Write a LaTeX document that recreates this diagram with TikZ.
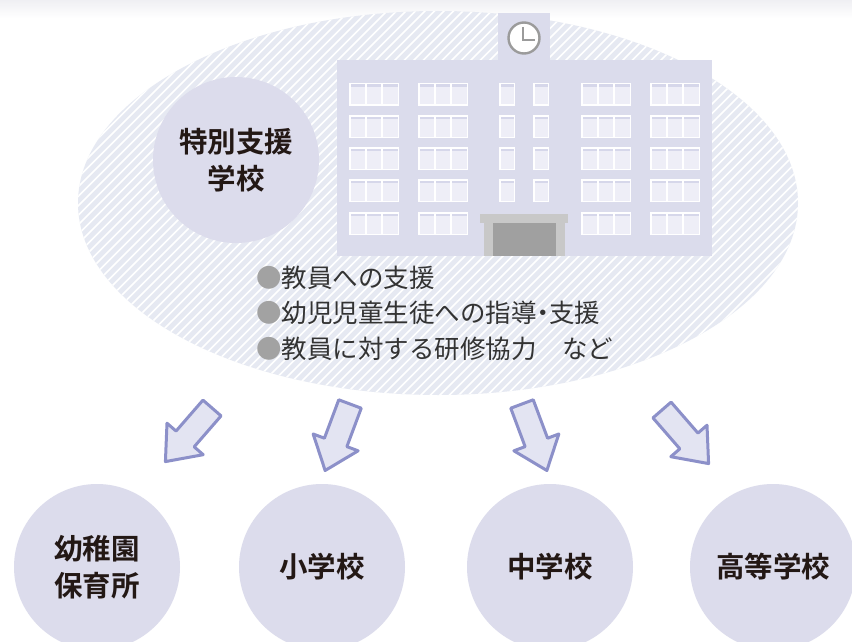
\documentclass[tikz,border=0pt]{standalone}
\usepackage{fontspec}
\newfontfamily\jp{Noto Sans CJK JP}[BoldFont={Noto Sans CJK JP Bold}]
\usetikzlibrary{calc}

\definecolor{hatchbase}{HTML}{E6E9F2}
\definecolor{disc}{HTML}{DCDCEC}
\definecolor{bldg}{HTML}{DBDCEC}
\definecolor{pane}{HTML}{EEEEF7}
\definecolor{panetop}{HTML}{D6D7EA}
\definecolor{arrowline}{HTML}{8C90C9}
\definecolor{arrowfill}{HTML}{E3E4F2}
\definecolor{ink}{HTML}{231815}
\definecolor{bodytext}{HTML}{333333}
\definecolor{dotgray}{HTML}{A2A2A2}
\definecolor{doorlight}{HTML}{C8C8C8}
\definecolor{doordark}{HTML}{A0A0A0}
\definecolor{clockring}{HTML}{9B9B9B}
\definecolor{topband}{HTML}{EFEFF3}

% window block: x, y, width, number of panes
\newcommand\winset[4]{%
  \fill[white] (#1,#2) rectangle ++(#3,23);
  \pgfmathsetmacro\winpw{(#3-(#4+1)*1.5)/#4}
  \foreach \k in {1,...,#4}{
    \fill[pane] ({#1+1.5+(\k-1)*(\winpw+1.5)},{#2+1.5}) rectangle ++(\winpw,20);
    \fill[panetop] ({#1+1.5+(\k-1)*(\winpw+1.5)},{#2+1.5}) rectangle ++(\winpw,2.2);
  }%
}

\tikzset{
  disclabel/.style={circle, fill=disc, minimum size=166, inner sep=0pt,
    align=center, text=ink, font=\jp\bfseries\fontsize{28.5}{37}\selectfont},
  blockarrow/.pic={
    \draw[line width=3pt, line join=round, draw=arrowline, fill=arrowfill]
      (0,-12) -- (41,-12) -- (41,-24) -- (71,0) -- (41,24) -- (41,12) -- (0,12) -- cycle;
  }
}

\begin{document}
\begin{tikzpicture}[x=1pt, y=-1pt]
\useasboundingbox (0,0) rectangle (852,642);
\fill[white] (0,0) rectangle (852,642);
\shade[top color=topband, bottom color=white] (0,0) rectangle (852,18);

% hatched zone around the special-needs school
\fill[hatchbase] (438,203) ellipse [x radius=360, y radius=192];
\begin{scope}
  \clip (438,203) ellipse [x radius=360, y radius=192];
  \foreach \i in {-420,-410.5,...,820}
    \draw[white, line width=1.5pt] (\i,400) -- ++(400,-400);
\end{scope}

% school building
\fill[bldg] (498,13) rectangle (550,60);
\fill[bldg] (337,60) rectangle (712,256);
\draw[clockring, line width=2.4pt, fill=white] (524,38) circle [radius=15.5];
\draw[clockring, line width=1.4pt] (523,27) -- (523,40) -- (535,40);
\foreach \ry in {83,115,147,179,212}{
  \winset{349}{\ry}{50}{3}
  \winset{418}{\ry}{50}{3}
  \winset{581}{\ry}{50}{3}
  \winset{650}{\ry}{50}{3}
}
\foreach \ry in {83,115,147,179}{
  \winset{499}{\ry}{16}{1}
  \winset{533}{\ry}{16}{1}
}
\fill[doorlight] (480,214) rectangle (568,223);
\fill[doorlight] (484,223) rectangle (565,256);
\fill[doordark] (493,223) rectangle (556,256);

% schools
\node[disclabel] (sns) at (236,160) {特別支援\\学校};
\node[disclabel] (kinder) at (97,567) {幼稚園\\保育所};
\node[disclabel] (elem) at (322,567) {小学校};
\node[disclabel] (junior) at (550,567) {中学校};
\node[disclabel] (high) at (773,567) {高等学校};

% roles of the special-needs school
\node[anchor=west, align=left, inner sep=0pt, text=bodytext,
      font=\jp\fontsize{25.5}{35.5}\selectfont] (roles) at (256,313)
  {\textcolor{dotgray}{●}教員への支援\\
   \textcolor{dotgray}{●}幼児児童生徒への指導\kern-0.25em・\kern-0.25em支援\\
   \textcolor{dotgray}{●}教員に対する研修協力　など};

% outreach arrows
\coordinate (a1) at (212,408);
\coordinate (a2) at (350,404);
\coordinate (a3) at (522,404);
\coordinate (a4) at (662,410);
\pic[rotate=-131] at (a1) {blockarrow};
\pic[rotate=-110.5] at (a2) {blockarrow};
\pic[rotate=-69.5] at (a3) {blockarrow};
\pic[rotate=-49] at (a4) {blockarrow};
\end{tikzpicture}
\end{document}
